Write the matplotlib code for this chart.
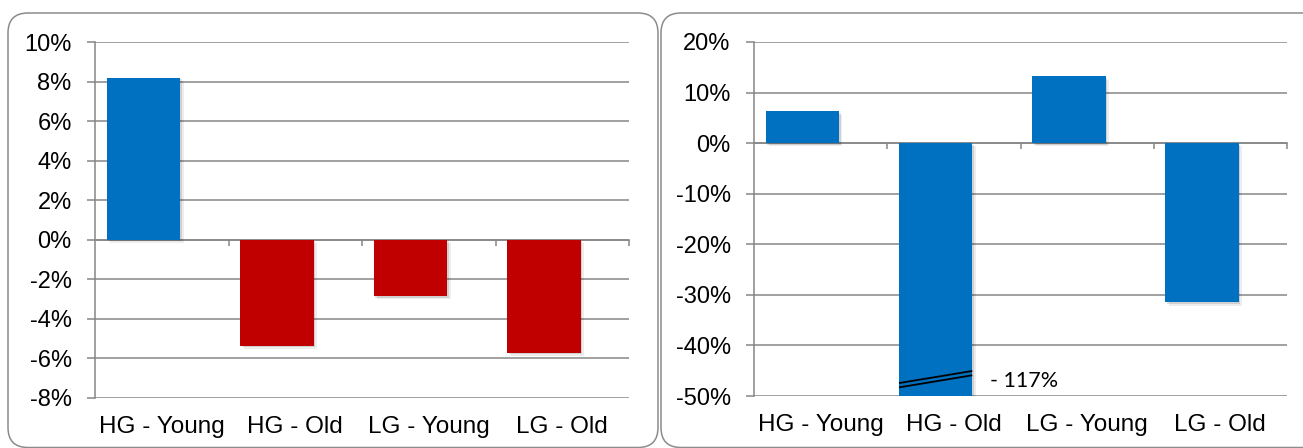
import numpy as np
import matplotlib.pyplot as plt
import matplotlib.patheffects as pe
from matplotlib.patches import FancyBboxPatch
from matplotlib.ticker import FuncFormatter

categories = ['HG - Young', 'HG - Old', 'LG - Young', 'LG - Old']
left_values = [8.2, -5.35, -2.85, -5.7]
left_colors = ['#0070C0', '#C00000', '#C00000', '#C00000']
left_ticks = [-8, -6, -4, -2, 0, 2, 4, 6, 8, 10]
right_values = [6.3, -117.0, 13.2, -31.5]
right_colors = ['#0070C0', '#0070C0', '#0070C0', '#0070C0']
right_ticks = [-50, -40, -30, -20, -10, 0, 10, 20]
break_label = '- 117%'

GRAY = '#868686'
W, H = 1303, 448
plt.rcParams['font.family'] = ['Liberation Sans', 'DejaVu Sans']

fig = plt.figure(figsize=(W / 100, H / 100), dpi=100)

# rounded frames around each panel (pixel coords)
for x0, x1 in [(8, 658), (661, 1330)]:
    box = FancyBboxPatch((x0, 0.5), x1 - x0, 435 - 0.5,
                         boxstyle='round,pad=0,rounding_size=20',
                         transform=None, fill=False, ec='#8c8c8c', lw=1.1)
    fig.add_artist(box)

shadow = [pe.SimplePatchShadow(offset=(1.2, -1.2), shadow_rgbFace='k', alpha=0.12),
          pe.SimplePatchShadow(offset=(2.4, -2.4), shadow_rgbFace='k', alpha=0.07),
          pe.Normal()]


def panel(rect, values, colors, ticks):
    ax = fig.add_axes([rect[0] / W, 1 - rect[3] / H,
                       (rect[2] - rect[0]) / W, (rect[3] - rect[1]) / H])
    x = np.arange(len(categories))
    bars = ax.bar(x - 0.137, values, width=0.55, color=colors, zorder=2)
    for b in bars:
        b.set_path_effects(shadow)
    ax.set_xlim(-0.5, len(categories) - 0.5)
    ax.set_ylim(ticks[0], ticks[-1])
    ax.set_yticks(ticks)
    ax.yaxis.set_major_formatter(FuncFormatter(lambda v, p: f'{v:.0f}%'))
    ax.set_axisbelow(True)
    ax.yaxis.grid(True, color=GRAY, lw=1.1)
    for s in ['top', 'right', 'bottom']:
        ax.spines[s].set_visible(False)
    ax.spines['left'].set_color(GRAY)
    ax.spines['left'].set_linewidth(1.1)
    ax.tick_params(axis='y', colors=GRAY, length=5.8, width=1.1, pad=11,
                   labelcolor='black', labelsize=17)
    ax.set_xticks(x)
    ax.set_xticklabels(categories)
    ax.tick_params(axis='x', length=0, pad=13, labelsize=17.5)

    # category axis crossing at zero
    zero_frac = (0 - ticks[0]) / (ticks[-1] - ticks[0])
    sec = ax.secondary_xaxis(zero_frac)
    sec.set_alignment('bottom')
    sec.set_xticks(np.arange(len(categories)) + 0.5)
    sec.set_xticklabels([])
    sec.tick_params(axis='x', direction='out', length=4.5, width=1.1, color=GRAY)
    for s in sec.spines.values():
        s.set_color(GRAY)
        s.set_linewidth(1.1)
    return ax, bars


panel((95, 42, 629, 398), left_values, left_colors, left_ticks)
ax2, bars2 = panel((754, 42, 1287, 396), right_values, right_colors, right_ticks)

# axis break marks on the truncated bar
b = bars2[1]
bx0, bx1 = b.get_x(), b.get_x() + b.get_width()
for dy in (0, 0.85):
    ax2.plot([bx0, bx1], [-48.3 + dy, -45.9 + dy], color='black', lw=1.3,
             zorder=3, solid_capstyle='butt')
ax2.text(bx1 + 0.13, -47.0, break_label, fontsize=15.5, family=['Lato', 'DejaVu Sans'],
         va='center', ha='left')

fig.savefig('out.png', dpi=100)
